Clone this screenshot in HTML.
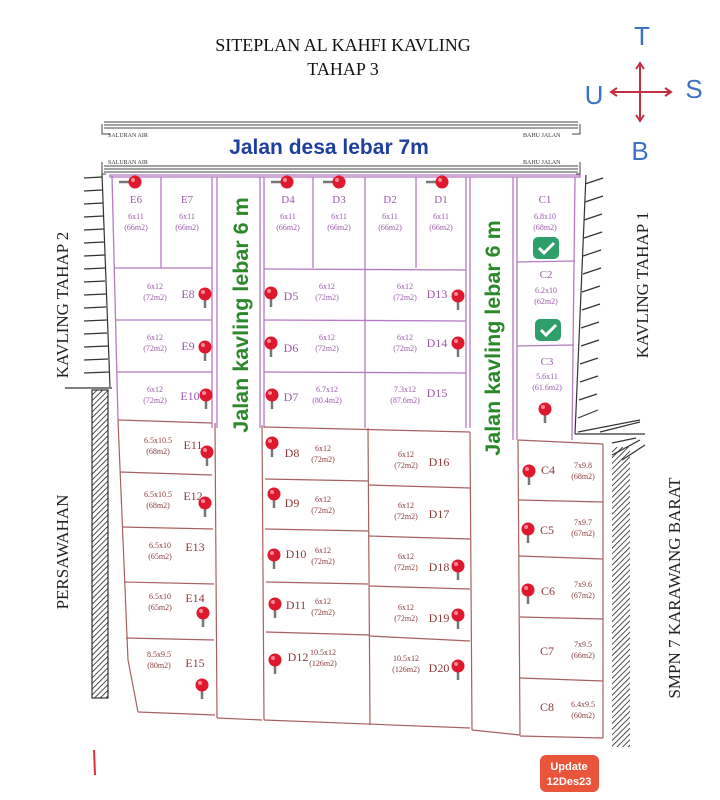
<!DOCTYPE html>
<html><head><meta charset="utf-8"><style>
html,body{margin:0;padding:0;background:#fff}
svg{display:block}
.s{font-family:"Liberation Serif",serif}
.a{font-family:"Liberation Sans",sans-serif;font-weight:bold}
.p{fill:#9a5aa8}
.m{fill:#8a3b3b}
</style></head><body>
<svg width="720" height="800" viewBox="0 0 720 800" xmlns="http://www.w3.org/2000/svg">
<defs>
<g id="pin"><line x1="0" y1="0" x2="0" y2="14" stroke="#777" stroke-width="2.5"/><circle r="6.5" fill="#e0182e"/><circle cx="-2" cy="-2" r="2" fill="#ff8a96"/></g>
<g id="hpin"><line x1="-16" y1="0" x2="0" y2="0" stroke="#777" stroke-width="2.5"/><circle r="6.5" fill="#e0182e"/><circle cx="-2" cy="-2" r="2" fill="#ff8a96"/></g>
<g id="chk"><rect x="-13" y="-11" width="26" height="22" rx="5" fill="#2e9e6a"/><path d="M-7 0 L-2 5 L8 -5" stroke="#fff" stroke-width="3" fill="none"/></g>
<pattern id="hl" width="4" height="4" patternUnits="userSpaceOnUse" patternTransform="rotate(45)"><line x1="0" y1="0" x2="0" y2="4" stroke="#222" stroke-width="1.6"/></pattern>
</defs>

<text x="343" y="51" text-anchor="middle" class="s" font-size="18" fill="#111">SITEPLAN  AL KAHFI  KAVLING</text>
<text x="343" y="75" text-anchor="middle" class="s" font-size="18" fill="#111">TAHAP  3</text>

<g font-family="Liberation Sans, sans-serif" fill="#3b72c4" font-size="26">
<text x="642" y="45" text-anchor="middle">T</text>
<text x="594" y="104" text-anchor="middle">U</text>
<text x="694" y="98" text-anchor="middle">S</text>
<text x="640" y="160" text-anchor="middle">B</text>
</g>
<g stroke="#c03040" stroke-width="2" fill="none">
<line x1="640" y1="64" x2="640" y2="120"/><line x1="612" y1="92" x2="670" y2="92"/>
<path d="M636 69 L640 63 L644 69 M636 115 L640 121 L644 115 M617 88 L611 92 L617 96 M665 88 L671 92 L665 96"/>
</g>

<g stroke="#444" stroke-width="1" fill="none">
<line x1="104" y1="122" x2="578" y2="122"/><line x1="104" y1="125" x2="578" y2="125"/><line x1="104" y1="128" x2="578" y2="128"/>
<path d="M102 124 V134 H110 M580 124 V134 H572"/>
<line x1="104" y1="166" x2="578" y2="166"/><line x1="104" y1="169" x2="578" y2="169"/><line x1="104" y1="172" x2="578" y2="172"/>
<path d="M102 162 V174 H106 M580 162 V174 H576"/>
</g>
<g class="s" font-size="6" fill="#333"><text x="108" y="137">SALURAN AIR</text><text x="523" y="137">BAHU JALAN</text><text x="108" y="164">SALURAN AIR</text><text x="523" y="164">BAHU JALAN</text></g>
<text x="329" y="154" text-anchor="middle" class="a" font-size="21" fill="#1f3f9f">Jalan desa lebar 7m</text>

<g stroke="#333" stroke-width="1.2" fill="none">
<line x1="102" y1="174" x2="110" y2="387"/>
<line x1="65" y1="388" x2="112" y2="388"/>
<path d="M84 178 L102 177 M84 191 L102 190 M84 204 L103 203 M84 217 L103 216 M84 230 L104 229 M84 243 L104 242 M84 256 L105 255 M84 269 L105 268 M84 282 L105 281 M84 295 L106 294 M84 308 L106 307 M84 321 L107 320 M84 334 L107 333 M84 347 L108 346 M84 360 L108 359 M84 373 L109 372"/>
<rect x="92" y="390" width="16" height="308"/>
</g>
<rect x="92" y="390" width="16" height="308" fill="url(#hl)"/>

<g stroke="#333" stroke-width="1.2" fill="none">
<line x1="586" y1="175" x2="575" y2="434"/>
<line x1="575" y1="434" x2="645" y2="434"/>
<path d="M585 184 L603 178 M585 202 L603 196 M584 220 L602 214 M584 238 L602 232 M583 256 L601 250 M583 274 L601 268 M582 292 L600 286 M582 310 L600 304 M581 328 L599 322 M581 346 L599 340 M580 364 L598 358 M580 382 L598 376 M579 400 L597 394 M578 418 L598 410 M578 432 L640 420 M600 432 L640 422"/>
<path d="M612 443 L636 438 M612 455 L640 440 M622 460 L645 445"/>
</g>
<rect x="612" y="447" width="18" height="300" fill="url(#hl)"/>

<g class="s" font-size="17" fill="#222">
<text transform="translate(68,305) rotate(-90)" text-anchor="middle">KAVLING  TAHAP 2</text>
<text transform="translate(68,552) rotate(-90)" text-anchor="middle">PERSAWAHAN</text>
<text transform="translate(648,285) rotate(-90)" text-anchor="middle">KAVLING  TAHAP  1</text>
<text transform="translate(680,588) rotate(-90)" text-anchor="middle">SMPN 7  KARAWANG  BARAT</text>
</g>

<g stroke="#b57ac4" stroke-width="1.3" fill="none">
<rect x="110" y="175" width="470" height="2"/>
<line x1="112" y1="176" x2="118" y2="420"/>
<line x1="161" y1="177" x2="161" y2="268"/>
<line x1="212" y1="177" x2="212" y2="428"/>
<line x1="217" y1="177" x2="217" y2="428"/>
<line x1="260" y1="177" x2="260" y2="428"/>
<line x1="264" y1="177" x2="264" y2="428"/>
<line x1="313" y1="177" x2="313" y2="268"/>
<line x1="365" y1="177" x2="365" y2="428"/>
<line x1="416" y1="177" x2="416" y2="268"/>
<line x1="466" y1="177" x2="466" y2="428"/>
<line x1="470" y1="177" x2="470" y2="428"/>
<line x1="513" y1="177" x2="513" y2="440"/>
<line x1="517" y1="177" x2="517" y2="440"/>
<line x1="575" y1="177" x2="572" y2="440"/>
<line x1="114" y1="268" x2="212" y2="268"/><line x1="264" y1="269" x2="466" y2="270"/>
<line x1="115" y1="320" x2="212" y2="320"/><line x1="264" y1="320" x2="466" y2="321"/>
<line x1="117" y1="372" x2="212" y2="372"/><line x1="264" y1="372" x2="466" y2="373"/>
<line x1="517" y1="262" x2="575" y2="261"/><line x1="517" y1="346" x2="574" y2="345"/>
</g>

<g stroke="#a86060" stroke-width="1.2" fill="none">
<line x1="118" y1="420" x2="212" y2="423"/>
<line x1="120" y1="472" x2="212" y2="475"/>
<line x1="122" y1="527" x2="213" y2="529"/>
<line x1="124" y1="582" x2="214" y2="584"/>
<line x1="126" y1="638" x2="214" y2="640"/>
<line x1="118" y1="420" x2="128" y2="660"/><line x1="128" y1="660" x2="138" y2="712"/>
<line x1="138" y1="712" x2="215" y2="715"/>
<line x1="215" y1="423" x2="217" y2="718"/>
<line x1="262" y1="425" x2="264" y2="720"/>
<line x1="264" y1="427" x2="470" y2="432"/>
<line x1="265" y1="479" x2="368" y2="481"/><line x1="368" y1="485" x2="470" y2="488"/>
<line x1="265" y1="529" x2="368" y2="531"/><line x1="368" y1="536" x2="470" y2="539"/>
<line x1="266" y1="582" x2="368" y2="584"/><line x1="369" y1="586" x2="470" y2="589"/>
<line x1="266" y1="632" x2="369" y2="635"/><line x1="369" y1="636" x2="470" y2="641"/>
<line x1="368" y1="428" x2="370" y2="725"/>
<line x1="264" y1="720" x2="470" y2="728"/>
<line x1="470" y1="432" x2="472" y2="730"/>
<line x1="518" y1="440" x2="520" y2="735"/>
<line x1="518" y1="440" x2="603" y2="444"/>
<line x1="519" y1="500" x2="603" y2="502"/>
<line x1="519" y1="556" x2="603" y2="559"/>
<line x1="520" y1="617" x2="603" y2="619"/>
<line x1="520" y1="678" x2="603" y2="681"/>
<line x1="520" y1="736" x2="603" y2="738"/>
<line x1="603" y1="444" x2="603" y2="738"/>
<line x1="217" y1="718" x2="262" y2="720"/>
<line x1="472" y1="730" x2="520" y2="735"/>
</g>

<g class="a" font-size="21.5" fill="#2a8a2a">
<text transform="translate(248,315) rotate(-90)" text-anchor="middle">Jalan kavling lebar 6 m</text>
<text transform="translate(500,338) rotate(-90)" text-anchor="middle">Jalan kavling lebar 6 m</text>
</g>

<g class="s p" text-anchor="middle">
<g font-size="11"><text x="136" y="203">E6</text><text x="187" y="203">E7</text><text x="288" y="203">D4</text><text x="339" y="203">D3</text><text x="390" y="203">D2</text><text x="441" y="203">D1</text><text x="545" y="203">C1</text><text x="546" y="278">C2</text><text x="547" y="365">C3</text></g>
<g font-size="8">
<text x="136" y="219">6x11</text><text x="136" y="230">(66m2)</text>
<text x="187" y="219">6x11</text><text x="187" y="230">(66m2)</text>
<text x="288" y="219">6x11</text><text x="288" y="230">(66m2)</text>
<text x="339" y="219">6x11</text><text x="339" y="230">(66m2)</text>
<text x="390" y="219">6x11</text><text x="390" y="230">(66m2)</text>
<text x="441" y="219">6x11</text><text x="441" y="230">(66m2)</text>
<text x="545" y="219">6.8x10</text><text x="545" y="230">(68m2)</text>
<text x="546" y="293">6.2x10</text><text x="546" y="304">(62m2)</text>
<text x="547" y="379">5.6x11</text><text x="547" y="390">(61.6m2)</text>
<text x="155" y="289">6x12</text><text x="155" y="300">(72m2)</text>
<text x="155" y="340">6x12</text><text x="155" y="351">(72m2)</text>
<text x="155" y="392">6x12</text><text x="155" y="403">(72m2)</text>
<text x="327" y="289">6x12</text><text x="327" y="300">(72m2)</text>
<text x="327" y="340">6x12</text><text x="327" y="351">(72m2)</text>
<text x="327" y="392">6.7x12</text><text x="327" y="403">(80.4m2)</text>
<text x="405" y="289">6x12</text><text x="405" y="300">(72m2)</text>
<text x="405" y="340">6x12</text><text x="405" y="351">(72m2)</text>
<text x="405" y="392">7.3x12</text><text x="405" y="403">(87.6m2)</text>
</g>
<g font-size="12"><text x="188" y="298">E8</text><text x="188" y="350">E9</text><text x="190" y="400">E10</text>
<text x="291" y="300">D5</text><text x="291" y="352">D6</text><text x="291" y="401">D7</text>
<text x="437" y="298">D13</text><text x="437" y="347">D14</text><text x="437" y="397">D15</text></g>
</g>

<g class="s m" text-anchor="middle">
<g font-size="8">
<text x="158" y="443">6.5x10.5</text><text x="158" y="454">(68m2)</text>
<text x="158" y="497">6.5x10.5</text><text x="158" y="508">(68m2)</text>
<text x="160" y="548">6.5x10</text><text x="160" y="559">(65m2)</text>
<text x="160" y="599">6.5x10</text><text x="160" y="610">(65m2)</text>
<text x="159" y="657">8.5x9.5</text><text x="159" y="668">(80m2)</text>
<text x="323" y="451">6x12</text><text x="323" y="462">(72m2)</text>
<text x="323" y="502">6x12</text><text x="323" y="513">(72m2)</text>
<text x="323" y="553">6x12</text><text x="323" y="564">(72m2)</text>
<text x="323" y="604">6x12</text><text x="323" y="615">(72m2)</text>
<text x="323" y="655">10.5x12</text><text x="323" y="666">(126m2)</text>
<text x="406" y="457">6x12</text><text x="406" y="468">(72m2)</text>
<text x="406" y="508">6x12</text><text x="406" y="519">(72m2)</text>
<text x="406" y="559">6x12</text><text x="406" y="570">(72m2)</text>
<text x="406" y="610">6x12</text><text x="406" y="621">(72m2)</text>
<text x="406" y="661">10.5x12</text><text x="406" y="672">(126m2)</text>
<text x="583" y="468">7x9.8</text><text x="583" y="479">(68m2)</text>
<text x="583" y="525">7x9.7</text><text x="583" y="536">(67m2)</text>
<text x="583" y="587">7x9.6</text><text x="583" y="598">(67m2)</text>
<text x="583" y="647">7x9.5</text><text x="583" y="658">(66m2)</text>
<text x="583" y="707">6.4x9.5</text><text x="583" y="718">(60m2)</text>
</g>
<g font-size="12">
<text x="193" y="449">E11</text><text x="193" y="500">E12</text><text x="195" y="551">E13</text><text x="195" y="602">E14</text><text x="195" y="667">E15</text>
<text x="292" y="457">D8</text><text x="292" y="507">D9</text><text x="296" y="558">D10</text><text x="296" y="609">D11</text><text x="298" y="661">D12</text>
<text x="439" y="466">D16</text><text x="439" y="518">D17</text><text x="439" y="571">D18</text><text x="439" y="622">D19</text><text x="439" y="672">D20</text>
<text x="548" y="474">C4</text><text x="547" y="534">C5</text><text x="548" y="595">C6</text><text x="547" y="655">C7</text><text x="547" y="711">C8</text>
</g>
</g>

<use href="#hpin" x="135" y="182"/><use href="#hpin" x="287" y="182"/><use href="#hpin" x="339" y="182"/><use href="#hpin" x="442" y="182"/>
<use href="#pin" x="205" y="294"/><use href="#pin" x="271" y="293"/><use href="#pin" x="458" y="296"/>
<use href="#pin" x="205" y="347"/><use href="#pin" x="271" y="343"/><use href="#pin" x="458" y="343"/>
<use href="#pin" x="206" y="395"/><use href="#pin" x="272" y="395"/><use href="#pin" x="545" y="409"/>
<use href="#pin" x="207" y="452"/><use href="#pin" x="272" y="443"/>
<use href="#pin" x="205" y="503"/><use href="#pin" x="274" y="494"/>
<use href="#pin" x="274" y="555"/><use href="#pin" x="458" y="566"/>
<use href="#pin" x="275" y="604"/><use href="#pin" x="458" y="615"/><use href="#pin" x="203" y="613"/>
<use href="#pin" x="275" y="660"/><use href="#pin" x="458" y="666"/><use href="#pin" x="202" y="685"/>
<use href="#pin" x="529" y="471"/><use href="#pin" x="528" y="529"/><use href="#pin" x="528" y="590"/>

<use href="#chk" x="546" y="248"/><use href="#chk" x="548" y="330"/>

<rect x="540" y="755" width="59" height="37" rx="6" fill="#e8553a"/>
<text x="569" y="770" text-anchor="middle" class="a" font-size="11" fill="#fff">Update</text>
<text x="569" y="785" text-anchor="middle" class="a" font-size="11" fill="#fff">12Des23</text>
<line x1="94" y1="750" x2="95" y2="775" stroke="#e03040" stroke-width="2"/>
</svg>
</body></html>
